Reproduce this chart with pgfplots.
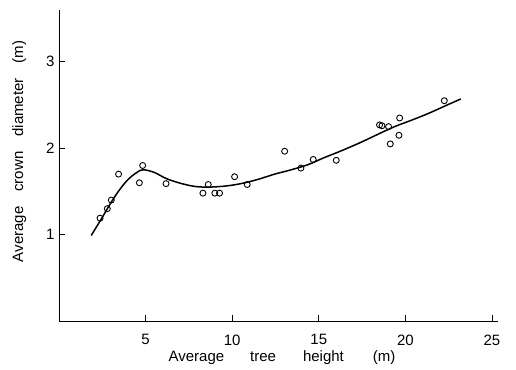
\documentclass[border=0pt]{standalone}
\usepackage{fontspec}
\setmainfont{Liberation Sans}
\usepackage{pgfplots}
\pgfplotsset{compat=1.18}
\begin{document}
\begin{tikzpicture}
\begin{axis}[
  scale only axis,
  width=439pt, height=311pt,
  xmin=0, xmax=25.35, ymin=0, ymax=3.6,
  axis lines=left,
  axis line style={-, line width=0.9pt},
  xtick={5,10,15,20,25},
  ytick={1,2,3},
  tick align=inside,
  major tick length=6pt,
  tick style={line width=0.8pt, black},
  /pgf/number format/assume math mode=true,
  ticklabel style={font=\fontsize{15}{17}\selectfont},
  xticklabel style={yshift=-10pt},
  yticklabel style={xshift=-1pt},
  xlabel={Average\hspace{1.73em}tree\hspace{1.8em}height\hspace{1.93em}(m)},
  ylabel={Average\hspace{1em}crown\hspace{1em}diameter\hspace{1em}(m)},
  label style={font=\fontsize{15}{17}\selectfont},
  xlabel style={yshift=1pt, xshift=3.5pt},
  ylabel style={yshift=13pt, xshift=14pt},
  clip=false,
]
\addplot[black, line width=1.5pt, smooth, tension=0.6] coordinates {
(1.86,0.99) (2.5,1.20) (3.0,1.37) (3.5,1.52) (4.0,1.64) (4.5,1.72)
(4.85,1.75) (5.5,1.72) (6.3,1.64) (7.5,1.57) (8.4,1.55) (9.5,1.56)
(10.5,1.59) (11.5,1.64) (12.45,1.70) (13.4,1.75) (14.38,1.81) (15.3,1.89)
(16.3,1.97) (17.45,2.07) (18.4,2.16) (19.38,2.25) (20.3,2.32) (21.3,2.40)
(22.3,2.49) (23.2,2.57)
};
\addplot[only marks, mark=o, mark size=3pt, mark options={line width=0.9pt, black, fill=white}] coordinates {
(2.37,1.19) (2.79,1.30) (3.02,1.40) (3.44,1.70) (4.64,1.60) (4.83,1.80)
(6.18,1.59) (8.31,1.48) (8.62,1.58) (9.00,1.48) (9.27,1.48) (10.14,1.67)
(10.87,1.58) (13.03,1.965) (13.97,1.77) (14.68,1.87) (16.01,1.86)
(18.51,2.27) (18.65,2.26) (19.03,2.25) (19.67,2.35) (19.13,2.05)
(19.63,2.15) (22.25,2.55)
};
\end{axis}
\path[use as bounding box] (-59pt,-48pt) rectangle (457pt,321pt);
\end{tikzpicture}
\end{document}
